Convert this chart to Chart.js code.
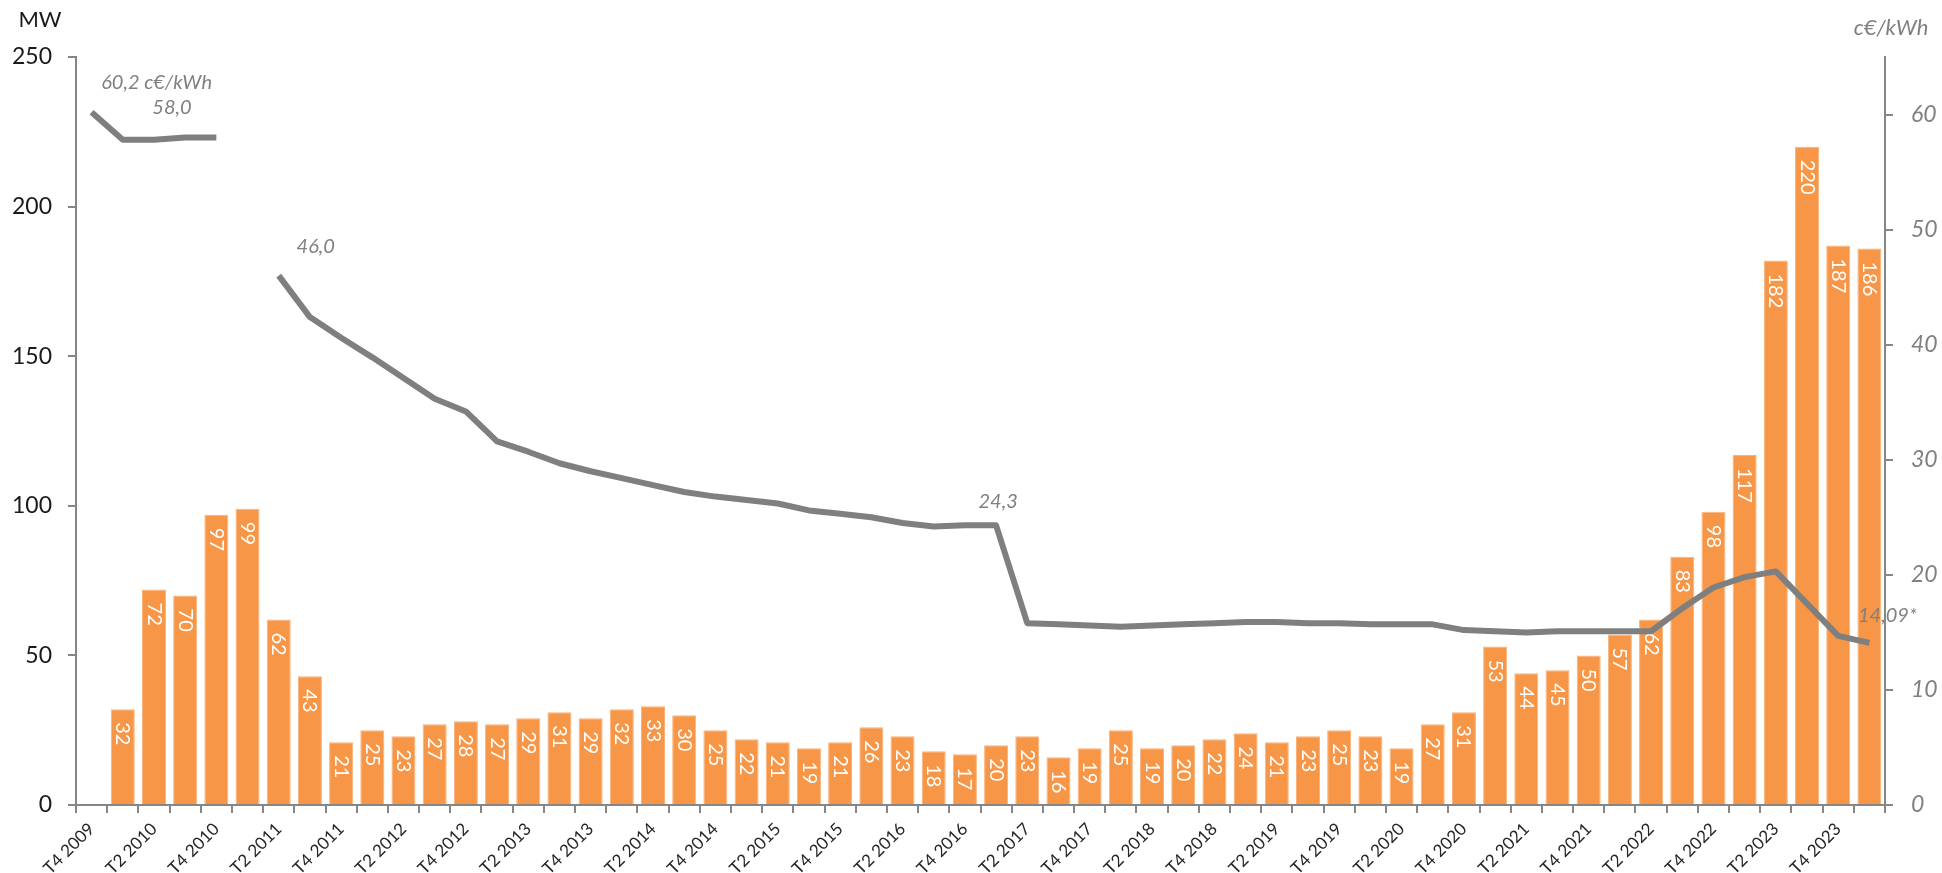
<!DOCTYPE html>
<html>
<head>
<meta charset="utf-8">
<script src="https://cdn.jsdelivr.net/npm/chart.js@4.4.0/dist/chart.umd.min.js"></script>
<style>
    html, body { margin: 0; padding: 0; background: #ffffff; }
    #wrap { width: 1942px; height: 873px; position: relative; }
</style>
</head>
<body>
<div id="wrap"><canvas id="chart"></canvas></div>
<script>
// Quarters (T = trimestre)
const quarters = [
    'T4 2009',
    'T1 2010', 'T2 2010', 'T3 2010', 'T4 2010',
    'T1 2011', 'T2 2011', 'T3 2011', 'T4 2011',
    'T1 2012', 'T2 2012', 'T3 2012', 'T4 2012',
    'T1 2013', 'T2 2013', 'T3 2013', 'T4 2013',
    'T1 2014', 'T2 2014', 'T3 2014', 'T4 2014',
    'T1 2015', 'T2 2015', 'T3 2015', 'T4 2015',
    'T1 2016', 'T2 2016', 'T3 2016', 'T4 2016',
    'T1 2017', 'T2 2017', 'T3 2017', 'T4 2017',
    'T1 2018', 'T2 2018', 'T3 2018', 'T4 2018',
    'T1 2019', 'T2 2019', 'T3 2019', 'T4 2019',
    'T1 2020', 'T2 2020', 'T3 2020', 'T4 2020',
    'T1 2021', 'T2 2021', 'T3 2021', 'T4 2021',
    'T1 2022', 'T2 2022', 'T3 2022', 'T4 2022',
    'T1 2023', 'T2 2023', 'T3 2023', 'T4 2023',
    'T1 2024'
];

// Raccordements (MW), bars
const capacityMW = [
    null,
    32, 72, 70, 97,
    99, 62, 43, 21,
    25, 23, 27, 28,
    27, 29, 31, 29,
    32, 33, 30, 25,
    22, 21, 19, 21,
    26, 23, 18, 17,
    20, 23, 16, 19,
    25, 19, 20, 22,
    24, 21, 23, 25,
    23, 19, 27, 31,
    53, 44, 45, 50,
    57, 62, 83, 98,
    117, 182, 220, 187,
    186
];

// Tarif d'achat (c€/kWh), line
const tariff = [
    60.2,
    57.8, 57.8, 58.0, 58.0,
    null, 46.0, 42.4, 40.6,
    38.9, 37.1, 35.3, 34.2,
    31.6, 30.7, 29.7, 29.0,
    28.4, 27.8, 27.2, 26.8,
    26.5, 26.2, 25.6, 25.3,
    25.0, 24.5, 24.2, 24.3,
    24.3, 15.8, 15.7, 15.6,
    15.5, 15.6, 15.7, 15.8,
    15.9, 15.9, 15.8, 15.8,
    15.7, 15.7, 15.7, 15.2,
    15.1, 15.0, 15.1, 15.1,
    15.1, 15.1, 17.1, 18.9,
    19.8, 20.3, 17.5, 14.7,
    14.09
];

// Point annotations on the tariff line
const tariffNotes = [
    { index: 0, text: '60,2 c€/kWh' },
    { index: 2, text: '58,0' },
    { index: 6, text: '46,0' },
    { index: 29, text: '24,3' },
    { index: 57, text: '14,09*' }
];

const FONT = 'Lato, "Open Sans", sans-serif';
const AXIS_GREY = '#868686';
const NOTE_GREY = '#808080';

// offsets of each note from its point (px)
const noteOffsets = [[65, -30], [18, -32], [37, -29], [2, -24], [18, -27]];

const overlayPlugin = {
    id: 'overlay',
    afterDatasetDraw(chart, args) {
        if (args.index !== 0) return;
        const ctx = chart.ctx;
        const meta = chart.getDatasetMeta(0);
        ctx.save();
        ctx.fillStyle = '#ffffff';
        ctx.font = '20px ' + FONT;
        ctx.textAlign = 'left';
        ctx.textBaseline = 'middle';
        meta.data.forEach((bar, i) => {
            const v = capacityMW[i];
            if (v == null) return;
            ctx.save();
            ctx.translate(bar.x, bar.y + 13);
            ctx.rotate(Math.PI / 2);
            ctx.fillText(String(v), 0, 0);
            ctx.restore();
        });
        ctx.restore();
    },
    afterDraw(chart) {
        const ctx = chart.ctx;
        const xs = chart.scales.x;
        const ys = chart.scales.y1;
        ctx.save();
        ctx.textAlign = 'center';
        ctx.textBaseline = 'middle';

        // axis units
        ctx.fillStyle = '#1a1a1a';
        ctx.font = '22px ' + FONT;
        ctx.fillText('MW', 40, 20);
        ctx.fillStyle = NOTE_GREY;
        ctx.font = 'italic 22px ' + FONT;
        ctx.fillText('c€/kWh', 1891, 28);

        // line notes
        ctx.font = 'italic 20px ' + FONT;
        tariffNotes.forEach((n, k) => {
            const px = xs.getPixelForValue(n.index);
            const py = ys.getPixelForValue(tariff[n.index]);
            ctx.fillText(n.text, px + noteOffsets[k][0], py + noteOffsets[k][1]);
        });
        ctx.restore();
    }
};

const ctx = document.getElementById('chart').getContext('2d');
new Chart(ctx, {
    type: 'bar',
    data: {
        labels: quarters,
        datasets: [
            {
                type: 'bar',
                label: 'MW',
                data: capacityMW,
                backgroundColor: '#F79646',
                borderColor: '#F9B27A',
                borderWidth: 1,
                barPercentage: 0.77,
                categoryPercentage: 1.0,
                yAxisID: 'y',
                order: 2
            },
            {
                type: 'line',
                label: 'c€/kWh',
                data: tariff,
                borderColor: '#7F7F7F',
                borderWidth: 6,
                pointRadius: 0,
                tension: 0,
                spanGaps: false,
                borderJoinStyle: 'round',
                yAxisID: 'y1',
                order: 1
            }
        ]
    },
    options: {
        responsive: true,
        maintainAspectRatio: false,
        animation: false,
        layout: { padding: { top: 57, left: 0, right: 0, bottom: 0 } },
        plugins: {
            legend: { display: false },
            tooltip: { enabled: false }
        },
        scales: {
            x: {
                offset: true,
                grid: {
                    offset: true,
                    drawOnChartArea: false,
                    drawTicks: true,
                    tickLength: 8,
                    color: AXIS_GREY,
                    lineWidth: 2
                },
                border: { color: AXIS_GREY, width: 2 },
                ticks: {
                    autoSkip: false,
                    minRotation: 45,
                    maxRotation: 45,
                    padding: 6,
                    color: '#262626',
                    font: { family: FONT, size: 17 },
                    callback: (val, i) => (i % 2 === 0 ? quarters[i] : '')
                },
                afterFit: (scale) => { scale.height = 68; }
            },
            y: {
                position: 'left',
                min: 0,
                max: 250,
                grid: {
                    drawOnChartArea: false,
                    tickLength: 8,
                    color: AXIS_GREY,
                    lineWidth: 2
                },
                border: { color: AXIS_GREY, width: 2 },
                ticks: {
                    stepSize: 50,
                    padding: 16,
                    color: '#1a1a1a',
                    font: { family: FONT, size: 23 }
                },
                afterFit: (scale) => { scale.width = 76; }
            },
            y1: {
                position: 'right',
                min: 0,
                max: 65,
                grid: {
                    drawOnChartArea: false,
                    tickLength: 8,
                    color: AXIS_GREY,
                    lineWidth: 2
                },
                border: { color: AXIS_GREY, width: 2 },
                ticks: {
                    stepSize: 10,
                    padding: 18,
                    color: NOTE_GREY,
                    font: { family: FONT, size: 23, style: 'italic' }
                },
                afterBuildTicks: (scale) => {
                    scale.ticks = scale.ticks.filter(t => t.value % 10 === 0);
                },
                afterFit: (scale) => { scale.width = 57; }
            }
        }
    },
    plugins: [overlayPlugin]
});
</script>
</body>
</html>
